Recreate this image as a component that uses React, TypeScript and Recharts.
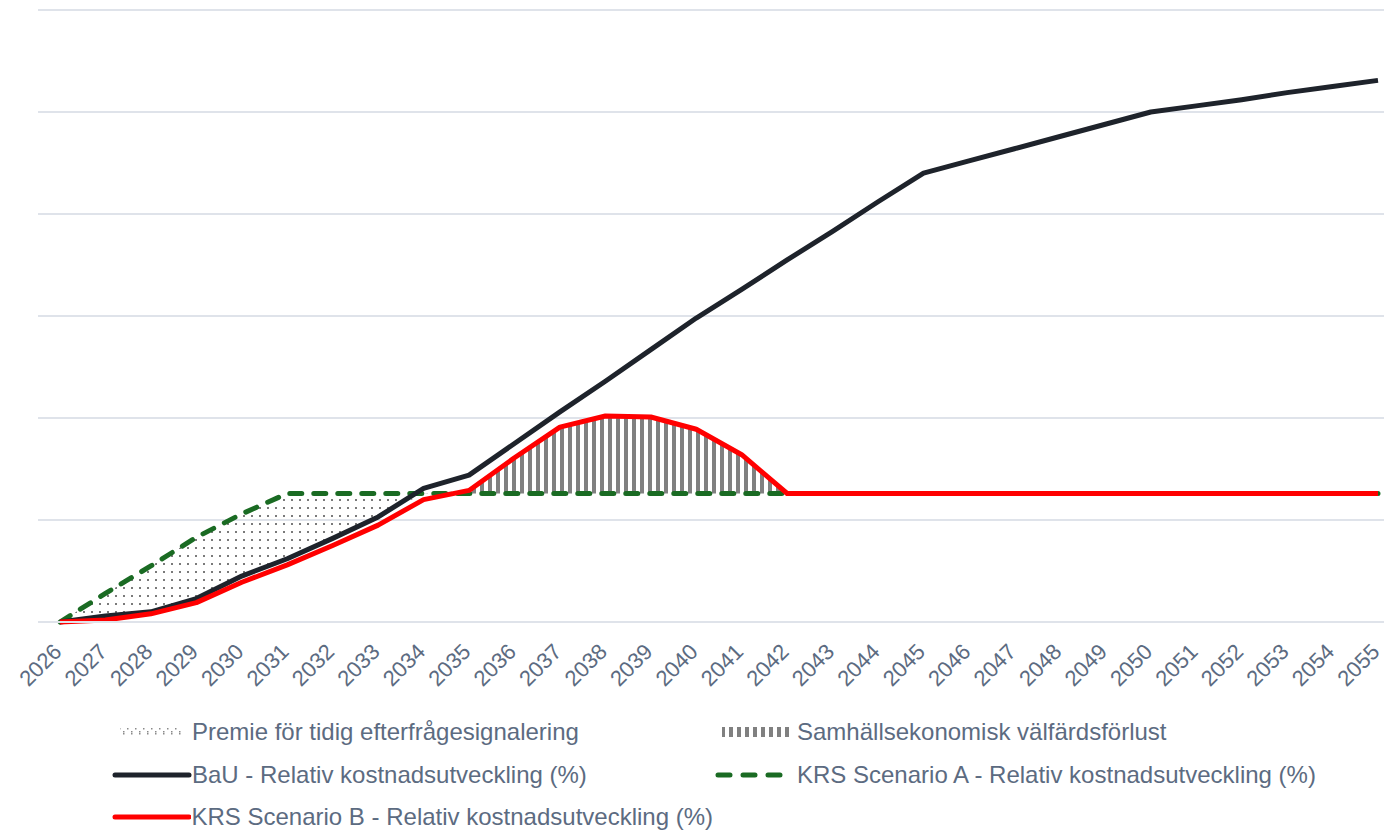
import { ComposedChart, Line, Area, XAxis, YAxis, CartesianGrid, Legend } from 'recharts';

const years = [
  2026, 2027, 2028, 2029, 2030, 2031, 2032, 2033, 2034, 2035, 2036, 2037, 2038, 2039, 2040,
  2041, 2042, 2043, 2044, 2045, 2046, 2047, 2048, 2049, 2050, 2051, 2052, 2053, 2054, 2055,
];

const bau = [
  0, 0.6, 1.0, 2.3, 4.5, 6.2, 8.2, 10.3, 13.1, 14.4, 17.5, 20.6, 23.6, 26.7, 29.8, 32.6, 35.5,
  38.3, 41.2, 44.0, 45.2, 46.4, 47.6, 48.8, 50.0, 50.6, 51.2, 51.9, 52.5, 53.1,
];

const scenarioA = [
  0, 2.8, 5.5, 8.3, 10.6, 12.6, 12.6, 12.6, 12.6, 12.6, 12.6, 12.6, 12.6, 12.6, 12.6, 12.6, 12.6,
  12.6, 12.6, 12.6, 12.6, 12.6, 12.6, 12.6, 12.6, 12.6, 12.6, 12.6, 12.6, 12.6,
];

const scenarioB = [
  0, 0.2, 0.8, 1.9, 3.9, 5.6, 7.5, 9.5, 12.0, 12.9, 16.1, 19.1, 20.2, 20.1, 18.9, 16.4, 12.6,
  12.6, 12.6, 12.6, 12.6, 12.6, 12.6, 12.6, 12.6, 12.6, 12.6, 12.6, 12.6, 12.6,
];

const yTicks = [0, 10, 20, 30, 40, 50, 60];

// shaded bands: early-signal premium up to 2034, welfare loss 2034–2042
const premiumEnd = 2034;
const lossStart = 2034;
const lossEnd = 2042;

const data = years.map((year, i) => ({
  year,
  bau: bau[i],
  a: scenarioA[i],
  b: scenarioB[i],
  premium: year <= premiumEnd ? [Math.min(bau[i], scenarioA[i]), scenarioA[i]] : null,
  loss:
    year >= lossStart && year <= lossEnd
      ? [scenarioA[i], Math.max(scenarioB[i], scenarioA[i])]
      : null,
}));

const TEXT = '#5c6b81';
const GRID = '#dfe3ea';
const FONT = '"Liberation Sans", Arial, sans-serif';

function YearTick({ x, y, payload }: { x: number; y: number; payload: { value: number } }) {
  return (
    <g transform={`translate(${x + 3},${y + 23})`}>
      <text textAnchor="end" transform="rotate(-45)" fill={TEXT} fontSize={22} fontFamily={FONT}>
        {payload.value}
      </text>
    </g>
  );
}

function Swatch({ kind }: { kind: string }) {
  return (
    <svg width={82} height={14} style={{ display: 'block' }}>
      <defs>
        <pattern id="lg-dots" patternUnits="userSpaceOnUse" width={8} height={8}>
          <rect x={1} y={3} width={1.5} height={1.5} fill="#8a8a8a" />
          <rect x={5} y={0} width={1.5} height={1.5} fill="#8a8a8a" />
          <rect x={5} y={6} width={1.5} height={1.5} fill="#8a8a8a" />
        </pattern>
        <pattern id="lg-stripes" patternUnits="userSpaceOnUse" width={8} height={8}>
          <rect x={0} y={0} width={4} height={8} fill="#808080" />
        </pattern>
      </defs>
      {kind === 'dots' && <rect x={10} y={3} width={63} height={8} fill="url(#lg-dots)" />}
      {kind === 'stripes' && <rect x={9} y={2} width={68} height={10} fill="url(#lg-stripes)" />}
      {kind === 'bau' && (
        <line x1={5} y1={7} x2={79} y2={7} stroke="#1e232b" strokeWidth={5} strokeLinecap="round" />
      )}
      {kind === 'a' && (
        <line
          x1={5}
          y1={7}
          x2={79}
          y2={7}
          stroke="#1a6b23"
          strokeWidth={5}
          strokeLinecap="round"
          strokeDasharray="12 13"
        />
      )}
      {kind === 'b' && (
        <line x1={5} y1={7} x2={79} y2={7} stroke="#ff0000" strokeWidth={5} strokeLinecap="round" />
      )}
    </svg>
  );
}

const legendItems = [
  { kind: 'dots', label: 'Premie för tidig efterfrågesignalering' },
  { kind: 'stripes', label: 'Samhällsekonomisk välfärdsförlust' },
  { kind: 'bau', label: 'BaU - Relativ kostnadsutveckling (%)' },
  { kind: 'a', label: 'KRS Scenario A - Relativ kostnadsutveckling (%)' },
  { kind: 'b', label: 'KRS Scenario B - Relativ kostnadsutveckling (%)' },
];

function ChartLegend() {
  return (
    <div
      style={{
        display: 'grid',
        gridTemplateColumns: '603px auto',
        paddingLeft: 110,
        marginTop: -1,
        fontFamily: FONT,
        fontSize: 24,
        color: TEXT,
      }}
    >
      {legendItems.map((item) => (
        <div key={item.kind} style={{ display: 'flex', alignItems: 'center', height: 42.5 }}>
          <Swatch kind={item.kind} />
          <span
            style={{
              marginLeft: item.kind === 'stripes' || item.kind === 'a' ? 2 : 0,
              whiteSpace: 'nowrap',
            }}
          >
            {item.label}
          </span>
        </div>
      ))}
    </div>
  );
}

export default function App() {
  return (
    <div style={{ width: 1384, height: 830, background: '#fff' }}>
      <style>{'html,body{margin:0;overflow:hidden;background:#fff}'}</style>
      <ComposedChart
        width={1384}
        height={830}
        data={data}
        margin={{ top: 10, right: 0, bottom: 0, left: 38 }}
      >
        <defs>
          <pattern id="dots" patternUnits="userSpaceOnUse" width={8} height={8}>
            <rect x={3} y={3} width={2} height={2} fill="#7a7a7a" />
          </pattern>
          <pattern id="stripes" patternUnits="userSpaceOnUse" width={8} height={8}>
            <rect x={0} y={0} width={4} height={8} fill="#808080" />
          </pattern>
        </defs>
        <CartesianGrid vertical={false} stroke={GRID} strokeWidth={2} />
        <XAxis
          dataKey="year"
          interval={0}
          tickLine={false}
          axisLine={{ stroke: GRID, strokeWidth: 2 }}
          tick={YearTick}
          padding={{ left: 22, right: 6 }}
          height={90}
        />
        <YAxis hide domain={[0, 60]} ticks={yTicks} />
        <Legend
          verticalAlign="bottom"
          height={118}
          wrapperStyle={{ left: 0, width: 1384 }}
          content={() => <ChartLegend />}
        />
        <Area
          dataKey="premium"
          fill="url(#dots)"
          fillOpacity={1}
          stroke="none"
          isAnimationActive={false}
          activeDot={false}
          legendType="none"
        />
        <Area
          dataKey="loss"
          fill="url(#stripes)"
          fillOpacity={1}
          stroke="none"
          isAnimationActive={false}
          activeDot={false}
          legendType="none"
        />
        <Line
          dataKey="a"
          stroke="#1a6b23"
          strokeWidth={5}
          strokeDasharray="12 12"
          strokeLinecap="round"
          dot={false}
          isAnimationActive={false}
        />
        <Line
          dataKey="bau"
          stroke="#1e232b"
          strokeWidth={5}
          strokeLinejoin="round"
          dot={false}
          isAnimationActive={false}
        />
        <Line
          dataKey="b"
          stroke="#ff0000"
          strokeWidth={5}
          strokeLinejoin="round"
          dot={false}
          isAnimationActive={false}
        />
      </ComposedChart>
    </div>
  );
}
